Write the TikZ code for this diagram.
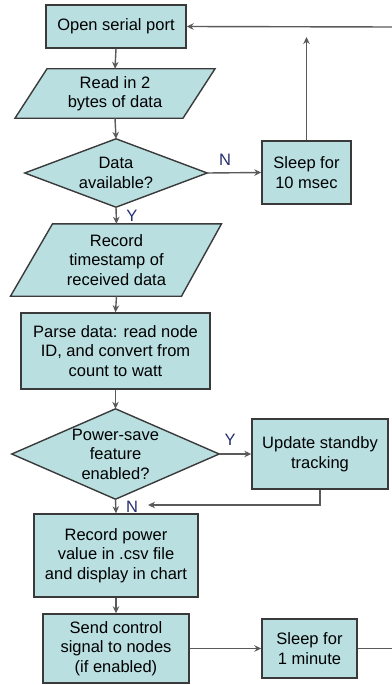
\documentclass[tikz,border=0pt]{standalone}
\usepackage{fontspec}
\setmainfont{Liberation Sans}
\usetikzlibrary{arrows.meta,calc}
\pgfdeclarelayer{bg}
\pgfsetlayers{bg,main}
\definecolor{boxfill}{HTML}{B9DFE1}
\definecolor{boxline}{HTML}{3A3A3A}
\definecolor{conline}{HTML}{5A5A5A}
\definecolor{lblcol}{HTML}{26306E}
\tikzset{
  boxnode/.style={rectangle, draw=boxline, fill=boxfill, line width=1.4pt, inner sep=0pt, align=center, font=\fontsize{16.5}{19.5}\selectfont},
  txtnode/.style={rectangle, inner sep=0pt, align=center, font=\fontsize{16.5}{19.5}\selectfont},
  shapefill/.style={draw=boxline, fill=boxfill, line width=1.4pt, line join=miter},
  conn/.style={draw=conline, line width=1.4pt, -{Stealth[length=7pt,width=6.5pt]}},
  plainconn/.style={draw=conline, line width=1.4pt},
  yn/.style={font=\fontsize{16.5}{19.5}\selectfont, text=lblcol, inner sep=0pt}
}
\begin{document}
\begin{tikzpicture}[x=1pt,y=-1pt]
\useasboundingbox (0,0) rectangle (391,685);
% nodes
\node[boxnode, minimum width=140pt, minimum height=43pt] (op) at (116,26.5) {Open serial port};
\node[txtnode, minimum width=150pt, minimum height=49pt] (rd) at (115,93.5) {Read in 2\\bytes of data};
\node[txtnode, minimum width=182pt, minimum height=68pt] (dv) at (116,173) {Data\\available?};
\node[boxnode, minimum width=89pt, minimum height=63pt] (s1) at (306.5,172.5) {Sleep for\\10 msec};
\node[txtnode, minimum width=150pt, minimum height=72pt] (rt) at (116.5,260) {Record\\timestamp of\\received data};
\node[boxnode, minimum width=189pt, minimum height=76pt] (pd) at (115.5,351) {Parse data: read node\\ID, and convert from\\count to watt};
\node[txtnode, minimum width=207pt, minimum height=90pt] (ps) at (115.5,454) {Power-save\\feature\\enabled?};
\node[boxnode, minimum width=136pt, minimum height=70pt] (us) at (320,454) {Update standby\\tracking};
\node[boxnode, minimum width=164pt, minimum height=83pt] (rp) at (116,555.5) {Record power\\value in .csv file\\and display in chart};
\node[boxnode, minimum width=146pt, minimum height=69pt] (sc) at (116,648.5) {Send control\\signal to nodes\\(if enabled)};
\node[boxnode, minimum width=95pt, minimum height=59pt] (s2) at (309.5,648.5) {Sleep for\\1 minute};
% shapes behind text
\begin{pgfonlayer}{bg}
\path[shapefill] ([xshift=-68pt]rd.north) -- ([xshift=100pt]rd.north) -- ([xshift=68pt]rd.south) -- ([xshift=-100pt]rd.south) -- cycle;
\path[shapefill] (dv.west) -- (dv.north) -- (dv.east) -- (dv.south) -- cycle;
\path[shapefill] ([xshift=-64pt]rt.north) -- ([xshift=105pt]rt.north) -- ([xshift=65pt]rt.south) -- ([xshift=-106pt]rt.south) -- cycle;
\path[shapefill] (ps.west) -- (ps.north) -- (ps.east) -- (ps.south) -- cycle;
\end{pgfonlayer}
% free ends
\coordinate (upend) at (306.5,37);
\coordinate (rtop) at (393,27);
\coordinate (rbot) at (393,648.5);
\coordinate (bend) at (us.south |- 0,505);
\coordinate (nret) at (148,505);
% connectors
\draw[conn] (op.south) -- (rd.north);
\draw[conn] (rd.south) -- (dv.north);
\draw[conn] (dv.east) -- (s1.west);
\draw[conn] (s1.north) -- (upend);
\draw[conn] (rtop) -- (op.east);
\draw[conn] (dv.south) -- (rt.north);
\draw[conn] (rt.south) -- (pd.north);
\draw[conn] (pd.south) -- (ps.north);
\draw[conn] (ps.east) -- (us.west);
\draw[conn] (us.south) -- (bend) -- (nret);
\draw[conn] (ps.south) -- (rp.north);
\draw[conn] (rp.south) -- (sc.north);
\draw[conn] (sc.east) -- (s2.west);
\draw[plainconn] (s2.east) -- (rbot) -- (rtop);
% labels
\node[yn] (ln1) at (225,160) {N};
\node[yn] (ly1) at (132,216) {Y};
\node[yn] (ly2) at (230,440) {Y};
\node[yn] (ln2) at (132,507) {N};
\end{tikzpicture}
\end{document}
